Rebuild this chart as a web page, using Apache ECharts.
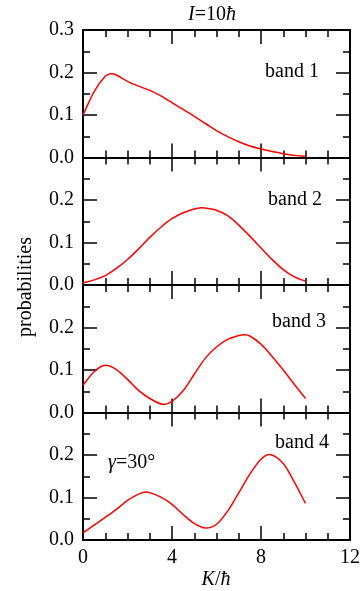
<!DOCTYPE html>
<html><head><meta charset="utf-8">
<script src="https://cdn.jsdelivr.net/npm/echarts@6/dist/echarts.min.js"></script>
<style>html,body{margin:0;padding:0;background:#fff}#c{width:363px;height:591px}</style>
</head><body><div id="c"></div>
<script>
const k1 = [0,0.5,1,1.25,1.5,2,2.5,3,3.5,4,4.5,5,5.5,6,6.5,7,7.5,8,8.5,9,9.5,10];
const band1 = [0.100,0.155,0.191,0.197,0.194,0.179,0.168,0.158,0.145,0.129,0.113,0.097,0.080,0.063,0.049,0.037,0.027,0.020,0.014,0.009,0.005,0.003];
const k2 = [0,0.5,1,1.5,2,2.5,3,3.5,4,4.5,5,5.3,5.5,6,6.5,7,7.5,8,8.5,9,9.5,10];
const band2 = [0.005,0.012,0.022,0.039,0.060,0.085,0.112,0.136,0.156,0.170,0.179,0.182,0.181,0.176,0.163,0.141,0.115,0.087,0.060,0.036,0.019,0.009];
const k3 = [0,0.5,1,1.5,2,2.5,3,3.6,4,4.5,5,5.5,6,6.5,7,7.25,7.5,8,8.5,9,9.5,10];
const band3 = [0.064,0.096,0.111,0.101,0.078,0.052,0.033,0.019,0.026,0.051,0.090,0.128,0.154,0.172,0.181,0.183,0.180,0.161,0.132,0.100,0.066,0.033];
const k4 = [0,0.5,1,1.5,2,2.5,2.85,3.5,4,4.5,5,5.5,6,6.5,7,7.5,8,8.4,9,9.5,10];
const band4 = [0.017,0.035,0.053,0.072,0.093,0.108,0.113,0.101,0.084,0.060,0.039,0.028,0.037,0.068,0.111,0.155,0.190,0.201,0.180,0.136,0.086];
const kArrays = [k1, k2, k3, k4];
const bands = [band1, band2, band3, band4];
const bandNames = ['band 1','band 2','band 3','band 4'];

const FONT = '"Liberation Serif", "Times New Roman", serif';
const chart = echarts.init(document.getElementById('c'), null, {renderer:'canvas'});
const L = 83, W = 267, T0 = 30, H = 127.5;
const grid = [], xAxis = [], yAxis = [], series = [];
const lineStyle = {color:'#000', width:2};
const tickStyle = {color:'#000', width:1.5};

// smooth curve through the data points (cubic Hermite in pixel space, via api.coord)
function makeRender(pts) {
  return function (params, api) {
    if (params.dataIndex !== 0) return null;
    const P = pts.map(p => api.coord(p));
    const n = P.length;
    const m = P.map((p, i) => {
      const a = P[Math.max(0, i - 1)], b = P[Math.min(n - 1, i + 1)];
      return (b[1] - a[1]) / (b[0] - a[0]);
    });
    let d = 'M' + P[0][0] + ' ' + P[0][1];
    for (let i = 0; i < n - 1; i++) {
      const h = P[i + 1][0] - P[i][0];
      d += ' C' + (P[i][0] + h / 3) + ' ' + (P[i][1] + m[i] * h / 3) + ' ' +
        (P[i + 1][0] - h / 3) + ' ' + (P[i + 1][1] - m[i + 1] * h / 3) + ' ' +
        P[i + 1][0] + ' ' + P[i + 1][1];
    }
    return {type:'path', shape:{pathData:d}, style:{stroke:'#ff0000', fill:'none', lineWidth:1.5}};
  };
}

for (let i = 0; i < 4; i++) {
  grid.push({left:L, top:T0 + H*i, width:W, height:H, containLabel:false});
  const base = {min:0, max:12, interval:4, gridIndex:i, type:'value',
    axisLine:{show:true, onZero:false, lineStyle}, splitLine:{show:false},
    axisTick:{show:true, inside:true, length:14, lineStyle:tickStyle},
    minorTick:{show:true, splitNumber:4, length:7, lineStyle:tickStyle},
  };
  xAxis.push(Object.assign({}, base, {position:'bottom',
    axisLabel:{show:i===3, color:'#000', fontFamily:FONT, fontSize:20, margin:8}}));
  xAxis.push(Object.assign({}, base, {position:'top', axisLabel:{show:false}}));
  const ybase = {min:0, max:0.3, interval:0.1, gridIndex:i, type:'value',
    axisLine:{show:true, onZero:false, lineStyle}, splitLine:{show:false},
    axisTick:{show:true, inside:true, length:14, lineStyle:tickStyle},
    minorTick:{show:true, splitNumber:2, length:7, lineStyle:tickStyle},
  };
  yAxis.push(Object.assign({}, ybase, {position:'left',
    axisLabel:{show:true, color:'#000', fontFamily:FONT, fontSize:20, margin:9,
      formatter: (v) => (i > 0 && v > 0.25) ? '' : v.toFixed(1)}}));
  yAxis.push(Object.assign({}, ybase, {position:'right', axisLabel:{show:false}}));
  const pts = kArrays[i].map((k, j) => [k, bands[i][j]]);
  series.push({type:'custom', xAxisIndex:2*i, yAxisIndex:2*i, data:pts, encode:{x:0, y:1},
    renderItem: makeRender(pts), animation:false, silent:true});
}
const labelY = [72, 200, 322, 443];
const labelX = [265, 268, 272, 275];
const graphic = [
  {type:'text', x:212, y:15, style:{text:'{i|I}=10{i|ħ}', font:'20px '+FONT, fill:'#000', align:'center', verticalAlign:'middle',
    rich:{i:{fontStyle:'italic', fontFamily:FONT, fontSize:20}}}},
  {type:'text', x:216, y:580, style:{text:'{i|K}/{i|ħ}', font:'20px '+FONT, fill:'#000', align:'center', verticalAlign:'middle',
    rich:{i:{fontStyle:'italic', fontFamily:FONT, fontSize:20}}}},
  {type:'text', x:26, y:287, rotation:Math.PI/2, style:{text:'probabilities', font:'20px '+FONT, fill:'#000', align:'center', verticalAlign:'middle'}},
  {type:'text', x:108, y:463, style:{text:'{i|γ}=30°', font:'20px '+FONT, fill:'#000', align:'left', verticalAlign:'middle',
    rich:{i:{fontStyle:'italic', fontFamily:FONT, fontSize:20}}}},
];
for (let i = 0; i < 4; i++) {
  graphic.push({type:'text', x:labelX[i], y:labelY[i], style:{text:bandNames[i], font:'20px '+FONT, fill:'#000', align:'left', verticalAlign:'middle'}});
}
chart.setOption({animation:false, grid, xAxis, yAxis, series, graphic});
</script></body></html>
